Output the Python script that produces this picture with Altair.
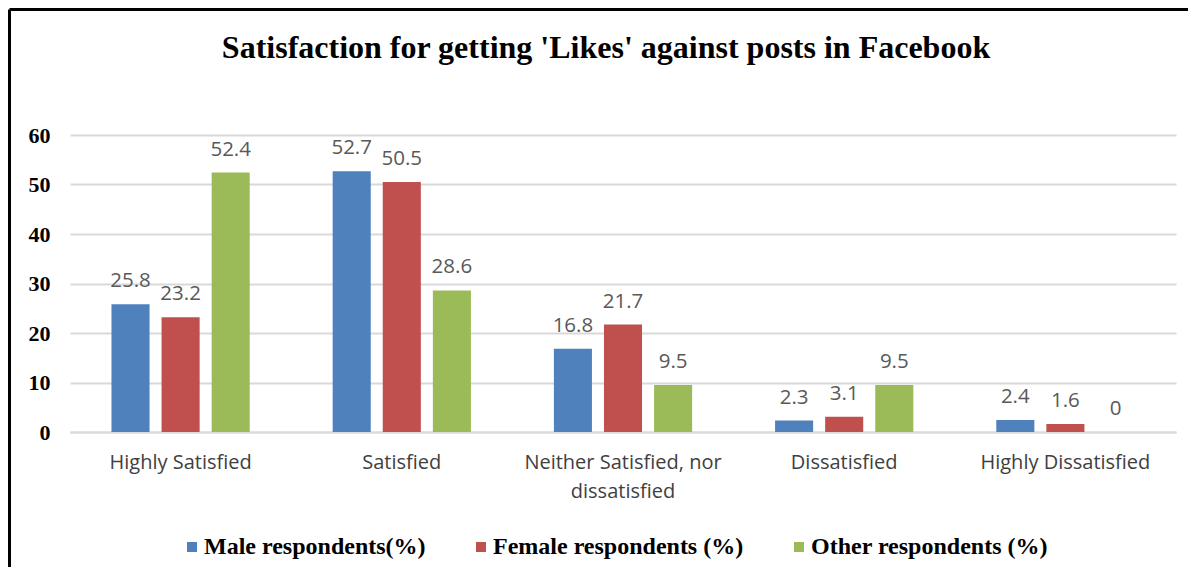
import altair as alt
import pandas as pd

categories = ["Highly Satisfied", "Satisfied", "Neither Satisfied, nor dissatisfied",
              "Dissatisfied", "Highly Dissatisfied"]
series = ["Male respondents(%)", "Female respondents (%)", "Other respondents (%)"]
male = [25.8, 52.7, 16.8, 2.3, 2.4]
female = [23.2, 50.5, 21.7, 3.1, 1.6]
other = [52.4, 28.6, 9.5, 9.5, 0]
colors = ["#4F81BD", "#C0504D", "#9BBB59"]

rows = []
for s, vals in zip(series, [male, female, other]):
    for c, v in zip(categories, vals):
        rows.append({"category": c, "series": s, "value": v, "label": f"{v:g}"})
df = pd.DataFrame(rows)

W, H = 1106, 297

x = alt.X("category:N", sort=categories, title=None,
          scale=alt.Scale(paddingInner=0.375, paddingOuter=0.1875),
          axis=alt.Axis(labelAngle=0, labelFont="Open Sans", labelFontSize=20,
                        labelColor="#404040", labelPadding=20, labelLineHeight=29,
                        labelLimit=400, ticks=False, domainColor="#D9D9D9", domainWidth=2,
                        labelExpr="datum.label == 'Neither Satisfied, nor dissatisfied' ? ['Neither Satisfied, nor', 'dissatisfied'] : datum.label"))
xo = alt.XOffset("series:N", sort=series, scale=alt.Scale(paddingInner=0.24, paddingOuter=0))
y = alt.Y("value:Q", title=None,
          scale=alt.Scale(domain=[0, 60], nice=False),
          axis=alt.Axis(values=[0, 10, 20, 30, 40, 50, 60], labelFont="Liberation Serif",
                        labelFontWeight="bold", labelFontSize=22, labelColor="#000000",
                        labelPadding=20, ticks=False, domain=False,
                        gridColor="#D9D9D9", gridWidth=2))
color = alt.Color("series:N", sort=series,
                  scale=alt.Scale(domain=series, range=colors),
                  legend=alt.Legend(title=None, orient="none", legendX=110, legendY=400,
                                    direction="horizontal", symbolType="square",
                                    symbolSize=100, symbolStrokeWidth=0, labelOffset=0,
                                    labelFont="Liberation Serif", labelFontWeight="bold",
                                    labelFontSize=24, labelColor="#000000", columnPadding=43,
                                    labelLimit=400))

base = alt.Chart(df)
bars = base.mark_bar().encode(x=x, xOffset=xo, y=y, color=color)
texts = base.mark_text(baseline="alphabetic", dy=-17, font="Open Sans", fontSize=20.5,
                       color="#595959").encode(x=x, xOffset=xo, y=y, text="label:N")

frame_df = pd.DataFrame({"k": [1]})
left_line = alt.Chart(frame_df).mark_rule(color="#000000", strokeWidth=3).encode(
    x=alt.value(-60.5), y=alt.value(-125.5), y2=alt.value(432))
top_line = alt.Chart(frame_df).mark_rule(color="#000000", strokeWidth=3).encode(
    y=alt.value(-125.5), x=alt.value(-60.5), x2=alt.value(1118))

chart = alt.layer(bars, texts, left_line, top_line).properties(
    width=W, height=H, padding=0,
    title=alt.TitleParams("Satisfaction for getting 'Likes' against posts in Facebook",
                          font="Liberation Serif", fontWeight="bold", fontSize=32,
                          color="#000000", anchor="middle", dx=-17, offset=-82,
                          baseline="alphabetic"),
).configure_view(stroke=None)

chart.save("out.html", embed_options={"renderer": "svg", "actions": False})
